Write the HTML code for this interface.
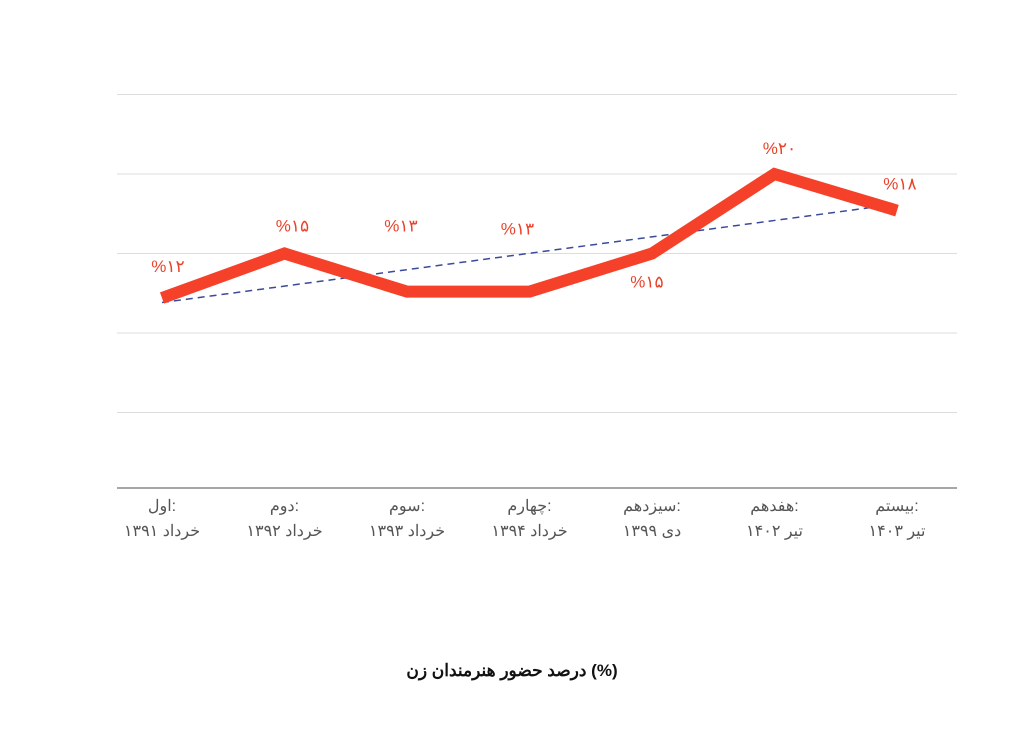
<!DOCTYPE html>
<html><head><meta charset="utf-8"><style>
body{margin:0;background:#fff;width:1024px;height:724px;overflow:hidden}
svg{font-family:"Liberation Sans","Noto Sans CJK SC",sans-serif}
</style></head><body>
<svg id="chart" width="1024" height="724"></svg>
<script>
const categories=[["اول:","خرداد ۱۳۹۱"],["دوم:","خرداد ۱۳۹۲"],["سوم:","خرداد ۱۳۹۳"],["چهارم:","خرداد ۱۳۹۴"],["سیزدهم:","دی ۱۳۹۹"],["هفدهم:","تیر ۱۴۰۲"],["بیستم:","تیر ۱۴۰۳"]];
const values=[12.2,15,12.6,12.6,15,20,17.7];
const valueLabels=["%۱۲","%۱۵","%۱۳","%۱۳","%۱۵","%۲۰","%۱۸"];
const yTicks=[5,10,15,20,25];
const NS="http://www.w3.org/2000/svg";
const svg=document.getElementById('chart');
const xs=[162,282,403,525,649,778,897];
const x=i=>xs[0]+(xs[6]-xs[0])*i/(categories.length-1);
const y=v=>492-v*15.9;
function mk(t,a,p){const e=document.createElementNS(NS,t);for(const k in a)e.setAttribute(k,a[k]);(p||svg).appendChild(e);return e;}
yTicks.forEach(t=>{const l=mk('line',{x1:117,x2:957,y1:y(t),y2:y(t),stroke:'#ddd','stroke-width':1});

});
const ax=mk('line',{x1:117,x2:957,y1:488,y2:488,stroke:'#888','stroke-width':1.5});


// trend
const n=values.length;let sx=0,sy=0,sxy=0,sxx=0;
values.forEach((v,i)=>{sx+=i;sy+=v;sxy+=i*v;sxx+=i*i;});
const b=(n*sxy-sx*sy)/(n*sxx-sx*sx),a0=(sy-b*sx)/n;
const tr=mk('line',{x1:x(0),y1:y(a0),x2:x(n-1),y2:y(a0+b*(n-1)),stroke:'#3b4a9a','stroke-width':1.5,'stroke-dasharray':'7,5'});


const pl=mk('polyline',{points:values.map((v,i)=>x(i)+','+y(v)).join(' '),fill:'none',stroke:'#f5412a','stroke-width':12,'stroke-linejoin':'miter'});


const dy=[-26,-22,-60,-57,34,-20,-21];
const dx=[6,8,-6,-12,-5,5,3];
values.forEach((v,i)=>{const t=mk('text',{x:x(i)+dx[i],y:y(v)+dy[i],'text-anchor':'middle',fill:'#e8432c','font-size':17});t.textContent=valueLabels[i];

});
categories.forEach((c,i)=>{c.forEach((s,j)=>{const t=mk('text',{x:x(i),y:511+j*25,'text-anchor':'middle',fill:'#555','font-size':16});t.textContent=s;

});});
const ti=mk('text',{x:512,y:676,'text-anchor':'middle',fill:'#111','font-size':17,'font-weight':'bold'});
ti.textContent="درصد حضور هنرمندان زن (%)";


</script>
</body></html>
